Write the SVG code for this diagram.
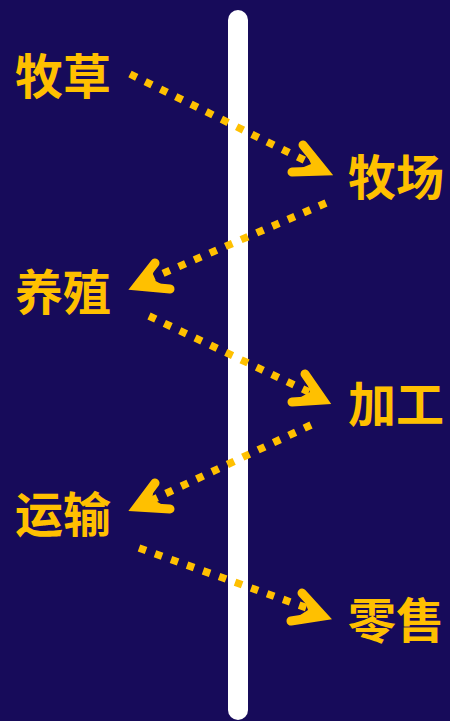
<svg xmlns="http://www.w3.org/2000/svg" width="450" height="721" viewBox="0 0 450 721">
<style>
.t{font-family:"Noto Sans CJK SC","Noto Sans",sans-serif;font-weight:700;font-size:48px;fill:#ffc000}
.d{fill:none;stroke:#ffc000;stroke-width:7.5;stroke-dasharray:7.5 9.5}
.h{fill:none;stroke:#ffc000;stroke-width:9;stroke-linecap:round;stroke-linejoin:miter;stroke-miterlimit:10}
.f{fill:#ffc000}
</style>
<rect width="450" height="721" fill="#170b5a"/>
<line x1="238" y1="20" x2="238" y2="710" stroke="#ffffff" stroke-width="20" stroke-linecap="round"/>
<g id="n1"><text class="t" x="15" y="94">牧草</text></g>
<g id="n2"><text class="t" x="348" y="195">牧场</text></g>
<g id="n3"><text class="t" x="15" y="310">养殖</text></g>
<g id="n4"><text class="t" x="348" y="422">加工</text></g>
<g id="n5"><text class="t" x="15" y="532">运输</text></g>
<g id="n6"><text class="t" x="348" y="638">零售</text></g>
<g id="connectors">
<path class="d" d="M130 74 L310 163"/>
<path class="h" d="M303 145 L324 171 L292 172"/>
<path class="f" d="M303 145 L324 171 L292 172 L311 164 Z"/>
<path class="d" d="M326 203 L150 279"/>
<path class="h" d="M155 263 L137 286 L170 289"/>
<path class="f" d="M155 263 L137 286 L170 289 L152 279 Z"/>
<path class="d" d="M149 316 L309 392"/>
<path class="h" d="M305 374 L323 400 L292 402"/>
<path class="f" d="M305 374 L323 400 L292 402 L310 392 Z"/>
<path class="d" d="M311 425 L150 501"/>
<path class="h" d="M155 483 L137 507 L170 509"/>
<path class="f" d="M155 483 L137 507 L170 509 L152 499 Z"/>
<path class="d" d="M139 548 L310 609"/>
<path class="h" d="M302 593 L323 616 L291 621"/>
<path class="f" d="M302 593 L323 616 L291 621 L308 610 Z"/>
</g>
</svg>
